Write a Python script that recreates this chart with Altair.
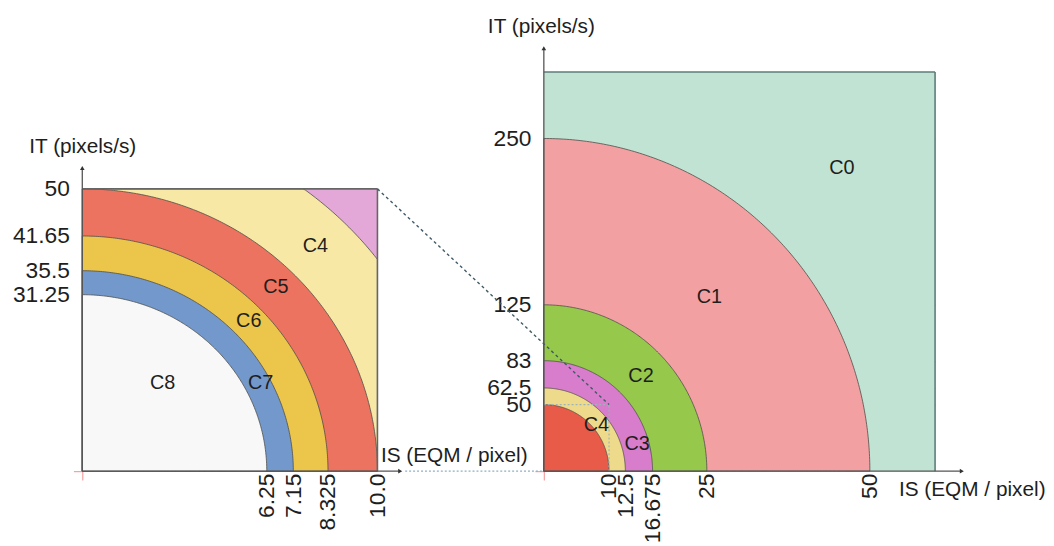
import altair as alt
import numpy as np
import pandas as pd

# ---------------- data ----------------
# right panel (overview)
R_IS_MAX, R_IT_MAX = 60, 300
R_BAND_IS = [50, 25, 16.675, 12.5, 10]
R_BAND_IT = [250, 125, 83, 62.5, 50]
R_BAND_COLORS = ["#f2a0a2", "#95c84b", "#d77dcc", "#eddb8b", "#e85b49"]
R_BG_COLOR = "#c1e3d3"
R_X_TICKS = [10, 12.5, 16.675, 25, 50]
R_X_LABELS = ["10", "12.5", "16.675", "25", "50"]
R_Y_TICKS = [50, 62.5, 83, 125, 250]
R_Y_LABELS = ["50", "62.5", "83", "125", "250"]
R_CLASS = ["C0", "C1", "C2", "C3", "C4"]
R_CLASS_IS = [45.7, 25.4, 14.9, 14.3, 8.05]
R_CLASS_IT = [227.8, 131, 71.5, 20.1, 35]

# left panel (zoom on IS 0-10, IT 0-50)
L_IS_MAX, L_IT_MAX = 10, 50
L_BAND_IS = [12.5, 10, 8.325, 7.15, 6.25]
L_BAND_IT = [62.5, 50, 41.65, 35.5, 31.25]
L_BAND_COLORS = ["#f8e8a6", "#ec735f", "#ecc54b", "#7398cb", "#f8f8f8"]
L_BG_COLOR = "#e3a8d7"
L_X_TICKS = [6.25, 7.15, 8.325, 10]
L_X_LABELS = ["6.25", "7.15", "8.325", "10.0"]
L_Y_TICKS = [31.25, 35.5, 41.65, 50]
L_Y_LABELS = ["31.25", "35.5", "41.65", "50"]
L_CLASS = ["C4", "C5", "C6", "C7", "C8"]
L_CLASS_IS = [7.9, 6.56, 5.64, 6.04, 2.72]
L_CLASS_IT = [39.8, 32.6, 26.5, 15.6, 15.6]

X_TITLE = "IS (EQM / pixel)"
Y_TITLE = "IT (pixels/s)"

# ---------------- layout / style ----------------
FONT = "Liberation Sans"
TXT = "#1e1e1e"
RW, RH = 395, 403          # right plot size (px)
LW, LBOX_H = 298, 285      # left plot width, left box height (px)
GAP = 168                  # gap between the two plot boxes
L_Y_TOP = L_IT_MAX * RH / LBOX_H
ARC_STROKE = "#4e4e48"


def lab_expr(vals, labs):
    e = "''"
    for v, l in zip(vals, labs):
        e = f"datum.value == {v} ? '{l}' : ({e})"
    return e


def main_axis(vals, labs, orient, title, tx, ty, talign, is_x):
    kw = dict(
        values=[0] + vals, labelExpr=lab_expr(vals, labs), orient=orient,
        domain=False, grid=False, tickSize=9, tickWidth=1.2,
        tickColor={"condition": {"test": "datum.value == 0", "value": "#f4a0a0"},
                   "value": "rgba(0,0,0,0)"},
        labelFont=FONT, labelFontSize=23, labelColor=TXT,
        labelOverlap=False, labelFlush=False,
        title=title, titleFont=FONT, titleFontSize=21, titleFontWeight="normal",
        titleColor=TXT, titleAngle=0, titleX=tx, titleY=ty, titleAlign=talign,
        titleBaseline="alphabetic",
    )
    if is_x:
        kw.update(labelAngle=270, labelPadding=-7)
    else:
        kw.update(labelPadding=4)
    return alt.Axis(**kw)


def mirror_axis(vals, orient, offset, color):
    return alt.Axis(values=vals, orient=orient, offset=offset, labels=False,
                    domain=False, grid=False, tickSize=7, tickColor=color,
                    tickWidth=1.2, title="")


def band_df(a, b, xmax, ymax, n=180):
    t = np.linspace(0, np.pi / 2, n)
    x = a * np.sin(t)
    y = b * np.cos(t)
    if a > xmax:
        keep = x < xmax
        x = np.append(x[keep], xmax)
        y = np.append(y[keep], b * np.sqrt(1 - (xmax / a) ** 2))
    y = np.minimum(y, ymax)
    return pd.DataFrame({"x": x, "y": y})


def panel(xs, ys, xmax, ymax, bg, band_is, band_it, colors, xaxis, yaxis,
          top_axis, right_axis, box_color, y_arrow, x_arrow, names, cx, cy, extras):
    layers = []
    layers.append(
        alt.Chart(pd.DataFrame({"x0": [0], "x1": [xmax], "y0": [0], "y1": [ymax]}))
        .mark_rect(fill=bg)
        .encode(x=alt.X("x0:Q", scale=xs, axis=xaxis), x2="x1",
                y=alt.Y("y0:Q", scale=ys, axis=yaxis), y2="y1")
    )
    for a, b, c in zip(band_is, band_it, colors):
        layers.append(
            alt.Chart(band_df(a, b, xmax, ymax))
            .mark_area(fill=c, stroke=ARC_STROKE, strokeWidth=0.8)
            .encode(x=alt.X("x:Q", scale=xs, axis=None),
                    y=alt.Y("y:Q", scale=ys, axis=None), y2=alt.datum(0))
        )
    # box edges (top and right) with inward mirror ticks
    edges = pd.DataFrame({"x": [0, xmax], "y": [ymax, 0], "x2": [xmax, xmax], "y2": [ymax, ymax]})
    layers.append(
        alt.Chart(edges).mark_rule(color=box_color, strokeWidth=1.6)
        .encode(x=alt.X("x:Q", scale=xs, axis=top_axis), x2="x2",
                y=alt.Y("y:Q", scale=ys, axis=right_axis), y2="y2")
    )
    layers += extras
    # axis lines
    ax = pd.DataFrame({"x": [0, 0], "y": [0, 0], "x2": [0, x_arrow], "y2": [y_arrow, 0]})
    layers.append(
        alt.Chart(ax).mark_rule(color="#555555", strokeWidth=1.3)
        .encode(x=alt.X("x:Q", scale=xs, axis=None), x2="x2",
                y=alt.Y("y:Q", scale=ys, axis=None), y2="y2")
    )
    arrows = pd.DataFrame({"x": [0, x_arrow], "y": [y_arrow, 0],
                           "s": ["triangle-up", "triangle-right"]})
    layers.append(
        alt.Chart(arrows).mark_point(filled=True, size=22, color="#333333", opacity=1)
        .encode(x=alt.X("x:Q", scale=xs, axis=None), y=alt.Y("y:Q", scale=ys, axis=None),
                shape=alt.Shape("s:N", scale=None))
    )
    layers.append(
        alt.Chart(pd.DataFrame({"n": names, "x": cx, "y": cy}))
        .mark_text(font=FONT, fontSize=20, color=TXT)
        .encode(x=alt.X("x:Q", scale=xs, axis=None), y=alt.Y("y:Q", scale=ys, axis=None),
                text="n:N")
    )
    return layers


# ---------------- left panel ----------------
lxs = alt.Scale(domain=[0, L_IS_MAX], nice=False)
lys = alt.Scale(domain=[0, L_Y_TOP], nice=False)
l_layers = panel(
    lxs, lys, L_IS_MAX, L_IT_MAX, L_BG_COLOR, L_BAND_IS, L_BAND_IT, L_BAND_COLORS,
    main_axis(L_X_TICKS, L_X_LABELS, "bottom", X_TITLE, LW + 3, -10, "left", True),
    main_axis(L_Y_TICKS, L_Y_LABELS, "left", Y_TITLE, 0, (RH - LBOX_H) - 37, "center", False),
    mirror_axis(L_X_TICKS[:-1], "top", -((RH - LBOX_H) + 7), "#c3cfc0"),
    mirror_axis(L_Y_TICKS[:-1], "right", -7, "#c3cfc0"),
    "#666666",
    L_IT_MAX + 21 * L_Y_TOP / RH, L_IS_MAX + 23 * L_IS_MAX / LW,
    L_CLASS, L_CLASS_IS, L_CLASS_IT, [],
)
left = alt.layer(*l_layers).properties(width=LW, height=RH).resolve_axis(
    x="independent", y="independent")

# ---------------- right panel ----------------
rxs = alt.Scale(domain=[0, R_IS_MAX], nice=False)
rys = alt.Scale(domain=[0, R_IT_MAX], nice=False)
px_x = R_IS_MAX / RW
px_y = R_IT_MAX / RH
zoom_box = pd.DataFrame({"x": [L_IS_MAX, 0], "y": [0, L_IT_MAX],
                         "x2": [L_IS_MAX, L_IS_MAX], "y2": [L_IT_MAX, L_IT_MAX]})
connector = pd.DataFrame({"x": [-GAP * px_x], "y": [R_IT_MAX - (RH - LBOX_H) * px_y],
                          "x2": [L_IS_MAX], "y2": [L_IT_MAX]})
axis_link = pd.DataFrame({"x": [(-GAP + 28) * px_x], "y": [0], "x2": [0], "y2": [0]})


def rule_layer(df, color, dash, width):
    return (alt.Chart(df).mark_rule(color=color, strokeDash=dash, strokeWidth=width)
            .encode(x=alt.X("x:Q", scale=rxs, axis=None), x2="x2",
                    y=alt.Y("y:Q", scale=rys, axis=None), y2="y2"))


r_extras = [
    rule_layer(zoom_box, "#9fb4b8", [2, 2], 1.2),
    rule_layer(connector, "#3f5a66", [3, 3], 1.4),
    rule_layer(axis_link, "#8fb0c4", [2, 2], 1.4),
]
r_layers = panel(
    rxs, rys, R_IS_MAX, R_IT_MAX, R_BG_COLOR, R_BAND_IS, R_BAND_IT, R_BAND_COLORS,
    main_axis(R_X_TICKS, R_X_LABELS, "bottom", X_TITLE, RW - 37, 25, "left", True),
    main_axis(R_Y_TICKS, R_Y_LABELS, "left", Y_TITLE, -3, -40, "center", False),
    mirror_axis(R_X_TICKS, "top", -7, "#86c9b2"),
    mirror_axis(R_Y_TICKS, "right", -7, "#86c9b2"),
    "#5d7d78",
    R_IT_MAX + 24 * px_y, R_IS_MAX + 27 * px_x,
    R_CLASS, R_CLASS_IS, R_CLASS_IT, r_extras,
)
right = alt.layer(*r_layers).properties(width=RW, height=RH).resolve_axis(
    x="independent", y="independent")

chart = (
    alt.hconcat(left, right, spacing=GAP, bounds="flush")
    .properties(padding={"left": 4, "top": 5, "right": 0, "bottom": 0},
                background="white")
    .configure_view(strokeWidth=0)
)

chart.save("out.html", embed_options={"renderer": "svg", "actions": False})
